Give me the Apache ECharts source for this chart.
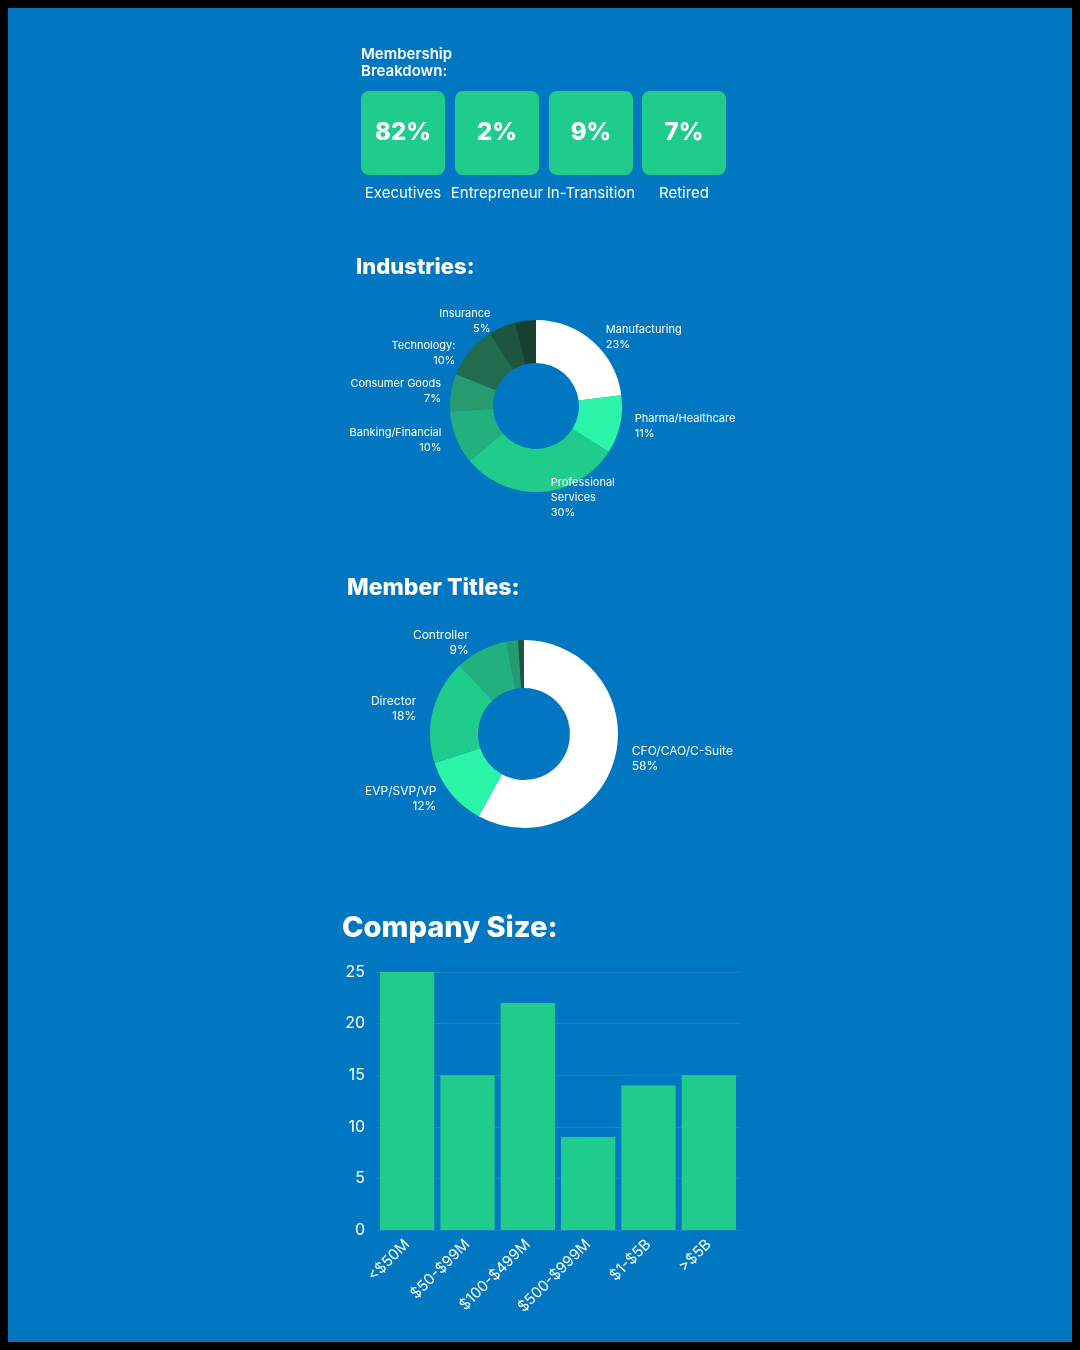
<!DOCTYPE html>
<html><head><meta charset="utf-8">
<script src="https://cdn.jsdelivr.net/npm/echarts@6/dist/echarts.min.js"></script>
<style>
html,body{margin:0;padding:0;background:#000;}
#chart{position:absolute;left:8px;top:8px;width:1064px;height:1334px;background:#0077c0;}
</style></head><body>
<div id="chart"></div>
<script>
const memberPct = ['82%', '2%', '9%', '7%'];
const memberNames = ['Executives', 'Entrepreneur', 'In-Transition', 'Retired'];

const industryNames = ['Manufacturing\n23%', 'Pharma/Healthcare\n11%', 'Professional\nServices\n30%', 'Banking/Financial\n10%', 'Consumer Goods\n7%', 'Technology:\n10%', 'Insurance\n5%', ''];
const industryValues = [23, 11, 30, 10, 7, 10, 5, 4];
const industryColors = ['#ffffff', '#2af5a9', '#1fcc8c', '#22b07f', '#279a6f', '#226b4f', '#1e5540', '#17402f'];

const titleNames = ['CFO/CAO/C-Suite\n58%', 'EVP/SVP/VP\n12%', 'Director\n18%', 'Controller\n9%', '', ''];
const titleValues = [58, 12, 18, 9, 2, 1];
const titleColors = ['#ffffff', '#2af5a9', '#1fcc8c', '#22b07f', '#279a6f', '#1e5540'];

const sizeCats = ['<$50M', '$50-$99M', '$100-$499M', '$500-$999M', '$1-$5B', '>$5B'];
const sizeValues = [25, 15, 22, 9, 14, 15];

const chart = echarts.init(document.getElementById('chart'));
const off = 8;
const FONT = 'Inter, "Noto Sans", sans-serif';

const graphics = [];
graphics.push({type:'text', left:361-off, top:46-off, style:{text:'Membership\nBreakdown:', font:'600 15px ' + FONT, fill:'#fff', lineHeight:17}});
const boxX = [361, 455, 549, 642];
boxX.forEach((x, i) => {
  graphics.push({type:'rect', shape:{x:x-off, y:91-off, width:84, height:84, r:8}, style:{fill:'#1fcc8c'}});
  graphics.push({type:'text', x:x+42-off, y:133-off, style:{text:memberPct[i], font:'800 24px ' + FONT, fill:'#fff', align:'center', verticalAlign:'middle'}});
  graphics.push({type:'text', x:x+42-off, y:193-off, style:{text:memberNames[i], font:'15px ' + FONT, fill:'#fff', align:'center', verticalAlign:'middle'}});
});
graphics.push({type:'text', left:356-off, top:256-off, style:{text:'Industries:', font:'800 22px ' + FONT, fill:'#fff'}});
graphics.push({type:'text', left:347-off, top:577-off, style:{text:'Member Titles:', font:'800 23px ' + FONT, fill:'#fff'}});
graphics.push({type:'text', left:342-off, top:914-off, style:{text:'Company Size:', font:'800 29px ' + FONT, fill:'#fff'}});

function pieData(names, values, colors) {
  return values.map((v, i) => ({name: names[i] || ('_' + i), value: v, itemStyle: {color: colors[i]},
    label: {show: !!names[i]}}));
}

chart.setOption({
  animation: false,
  graphic: graphics,
  grid: {left: 377-off, right: 1080-739-off, top: 972-off, bottom: 1350-1230-off},
  xAxis: {type: 'category', data: sizeCats,
    axisLine: {show: false}, axisTick: {show: false},
    axisLabel: {color: '#fff', fontSize: 15, fontFamily: FONT, rotate: 45, interval: 0, margin: 12}},
  yAxis: {type: 'value', min: 0, max: 25, interval: 5,
    axisLabel: {color: '#fff', fontSize: 16, fontFamily: FONT, margin: 12},
    splitLine: {lineStyle: {color: '#1a84c8', width: 1}}},
  series: [
    {type: 'bar', data: sizeValues, barCategoryGap: '10%', itemStyle: {color: '#1fcc8c'}},
    {type: 'pie', center: [536-off, 406-off], radius: [43, 86], startAngle: 90, clockwise: true,
      data: pieData(industryNames, industryValues, industryColors),
      label: {position: 'outside', color: '#fff', fontSize: 11, fontFamily: FONT, lineHeight: 15,
        formatter: p => p.name},
      labelLine: {show: false, length: 6, length2: 4}},
    {type: 'pie', center: [524-off, 734-off], radius: [46, 94], startAngle: 90, clockwise: true,
      data: pieData(titleNames, titleValues, titleColors),
      label: {position: 'outside', color: '#fff', fontSize: 12, fontFamily: FONT, lineHeight: 15,
        formatter: p => p.name},
      labelLine: {show: false, length: 8, length2: 4}}
  ]
});
</script></body></html>
